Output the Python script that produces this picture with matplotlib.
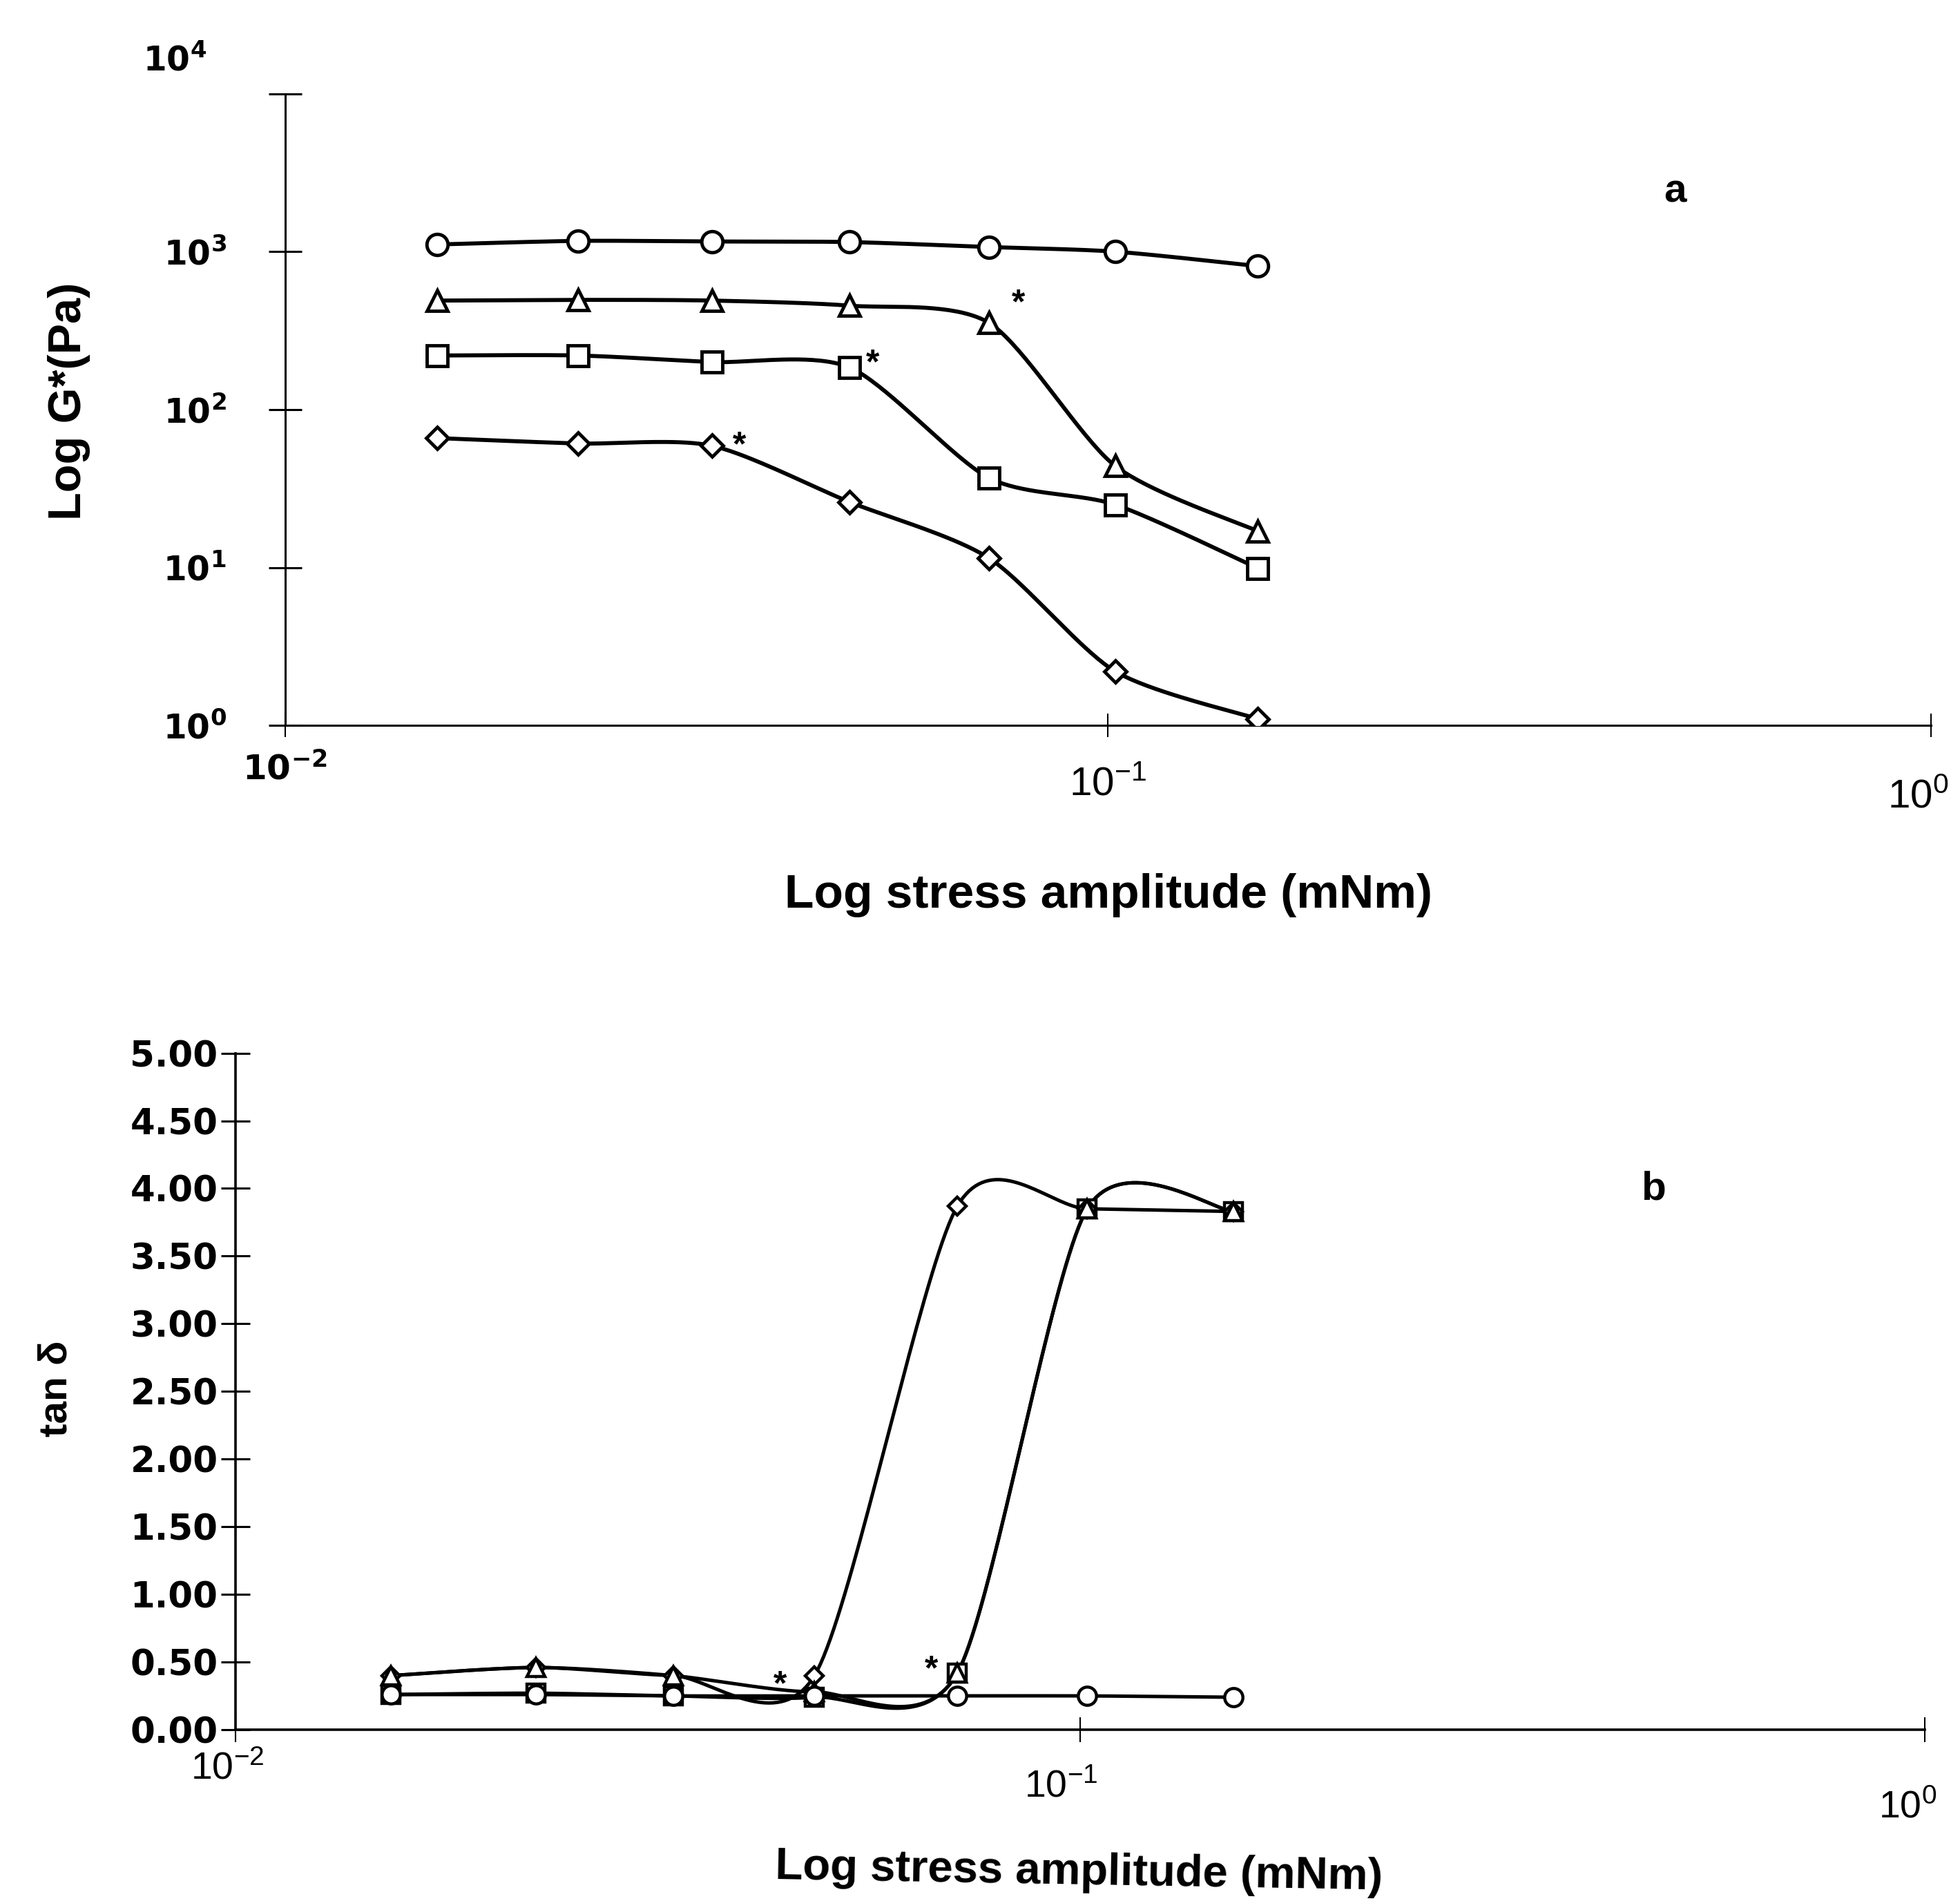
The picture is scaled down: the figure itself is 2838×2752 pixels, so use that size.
import numpy as np
import matplotlib
matplotlib.use("Agg")
import matplotlib.pyplot as plt
from matplotlib import font_manager
from matplotlib.transforms import ScaledTranslation

# Stress amplitudes (mNm), shared by both panels
stress = [0.0153, 0.0227, 0.033, 0.0485, 0.0716, 0.102, 0.152]

# Panel a: complex modulus G* (Pa)
g_circle = [1110, 1170, 1160, 1150, 1070, 1000, 810]
g_triangle = [490, 495, 490, 455, 355, 44, 17]
g_square = [220, 220, 200, 185, 37, 25, 9.9]
g_diamond = [66, 61, 59, 26, 11.5, 2.2, 1.1]

# Panel b: tan delta
tan_circle = [0.26, 0.26, 0.25, 0.25, 0.25, 0.25, 0.24]
tan_triangle = [0.40, 0.46, 0.40, 0.28, 0.42, 3.85, 3.83]
tan_square = [0.26, 0.27, 0.25, 0.24, 0.42, 3.85, 3.83]
tan_diamond = [0.40, 0.46, 0.40, 0.40, 3.87, 3.85, 3.83]

# Tick labels
a_yticks = [1, 10, 100, 1000]
a_yticklabels = [r"$\mathbf{10^{0}}$", r"$\mathbf{10^{1}}$", r"$\mathbf{10^{2}}$", r"$\mathbf{10^{3}}$"]
xticks = [0.01, 0.1, 1]
a_xticklabels = [r"$\mathbf{10^{-2}}$", r"$\mathrm{10^{-1}}$", r"$\mathrm{10^{0}}$"]
b_xticklabels = [r"$\mathrm{10^{-2}}$", r"$\mathrm{10^{-1}}$", r"$\mathrm{10^{0}}$"]
b_yticks = [0.0, 0.5, 1.0, 1.5, 2.0, 2.5, 3.0, 3.5, 4.0, 4.5, 5.0]
b_yticklabels = ["%.2f" % v for v in b_yticks]

# Fonts
names = {f.name for f in font_manager.fontManager.ttflist}
narrow = "Liberation Sans Narrow" if "Liberation Sans Narrow" in names else "Liberation Sans"
plt.rcParams["font.family"] = ["Liberation Sans", "DejaVu Sans"]
plt.rcParams["mathtext.fontset"] = "custom"
plt.rcParams["mathtext.rm"] = narrow
plt.rcParams["mathtext.bf"] = "DejaVu Sans:bold"

ARM = 0.13  # control arm factor of the smoothed lines


def smooth(xs, ys, n=40):
    # Excel style smoothed line: cubic Bezier through the points
    pts = np.column_stack([xs, ys])
    out = [pts[0]]
    t = np.linspace(0, 1, n)[1:, None]
    for i in range(len(pts) - 1):
        p0 = pts[i - 1] if i > 0 else pts[i]
        p1 = pts[i]
        p2 = pts[i + 1]
        p3 = pts[i + 2] if i + 2 < len(pts) else pts[i + 1]
        c1 = p1 + (p2 - p0) * ARM
        c2 = p2 - (p3 - p1) * ARM
        seg = (1 - t) ** 3 * p1 + 3 * (1 - t) ** 2 * t * c1 + 3 * (1 - t) * t ** 2 * c2 + t ** 3 * p2
        out.extend(seg)
    return np.array(out)


def smooth_line(ax, x, y, logy, lw):
    lx = np.log10(x)
    ly = np.log10(y) if logy else np.asarray(y, dtype=float)
    curve = smooth(lx, ly)
    cy = 10 ** curve[:, 1] if logy else curve[:, 1]
    ax.plot(10 ** curve[:, 0], cy, color="black", lw=lw, zorder=2, solid_capstyle="round")


def star(ax, x, y, dx, dy):
    # asterisk marking the yield point, offset in points from the data point
    ax.annotate("*", (x, y), xytext=(dx, dy - 20), textcoords="offset points",
                ha="center", va="baseline", fontsize=36, fontweight="bold", zorder=5)


def shift_labels(ax, shifts):
    # nudge x tick labels (dx, dy in points)
    for lab, (dx, dy) in zip(ax.get_xticklabels(), shifts):
        lab.set_transform(lab.get_transform() + ScaledTranslation(dx / 72, dy / 72, fig.dpi_scale_trans))


fig = plt.figure(figsize=(28.38, 27.52), dpi=100)

# ---------------- Panel a ----------------
ax1 = fig.add_axes([0.1454, 0.6184, 0.8399, 0.3323])
ax1.set_xscale("log")
ax1.set_yscale("log")
ax1.set_xlim(0.01, 1)
ax1.set_ylim(1, 10000)

series_a = [(g_circle, "o"), (g_triangle, "^"), (g_square, "s"), (g_diamond, "D")]
for vals, m in series_a:
    smooth_line(ax1, stress, vals, True, 4.2)
for vals, m in series_a:
    ms = 16 if m == "D" else 22
    ax1.plot(stress, vals, ls="none", marker=m, ms=ms, mfc="white", mec="black", mew=3.5, zorder=3)

star(ax1, stress[4], g_triangle[4], 31, 30)
star(ax1, stress[3], g_square[3], 24, 14)
star(ax1, stress[2], g_diamond[2], 29, 10)

for s in ["top", "right"]:
    ax1.spines[s].set_visible(False)
for s in ["left", "bottom"]:
    ax1.spines[s].set_linewidth(2.2)
ax1.minorticks_off()
ax1.set_yticks(a_yticks + [10000])
ax1.set_yticklabels(a_yticklabels + [""])
ax1.set_xticks(xticks)
ax1.set_xticklabels(a_xticklabels)
ax1.tick_params(axis="y", which="major", direction="inout", length=34, width=2.2, pad=44, labelsize=35)
ax1.tick_params(axis="x", which="major", direction="inout", length=24, width=1.5, pad=16, labelsize=42)
ax1.tick_params(which="minor", length=0)
ax1.get_xticklabels()[0].set_fontsize(36)
shift_labels(ax1, [(0, 0), (0, -14), (-14, -28)])

fig.text(0.0893, 0.968, r"$\mathbf{10^{4}}$", fontsize=35, ha="center", va="center")
fig.text(0.0351, 0.789, "Log G*(Pa)", rotation=90, fontsize=48, fontweight="bold", ha="center", va="center")
fig.text(0.5657, 0.529, "Log stress amplitude (mNm)", fontsize=50, fontweight="bold", ha="center", va="center")
fig.text(0.8546, 0.899, "a", fontsize=42, fontweight="bold", ha="center", va="center")

# ---------------- Panel b ----------------
ax2 = fig.add_axes([0.1200, 0.0901, 0.8620, 0.3559])
ax2.set_xscale("log")
ax2.set_xlim(0.01, 1)
ax2.set_ylim(0, 5)

series_b = [(tan_square, "s"), (tan_diamond, "D"), (tan_triangle, "^"), (tan_circle, "o")]
for vals, m in series_b:
    smooth_line(ax2, stress, vals, False, 3.6)
for vals, m in series_b:
    ms = 13 if m == "D" else 19
    ax2.plot(stress, vals, ls="none", marker=m, ms=ms, mfc="white", mec="black", mew=3.2, zorder=3)

star(ax2, stress[3], tan_diamond[3], -36, 0)
star(ax2, stress[4], tan_square[4], -27, 13)

for s in ["top", "right"]:
    ax2.spines[s].set_visible(False)
for s in ["left", "bottom"]:
    ax2.spines[s].set_linewidth(2.6)
ax2.minorticks_off()
ax2.set_yticks(b_yticks)
ax2.set_yticklabels(b_yticklabels, fontweight="bold", family="DejaVu Sans")
ax2.set_xticks(xticks)
ax2.set_xticklabels(b_xticklabels)
ax2.tick_params(axis="y", which="major", direction="inout", length=30, width=2.2, pad=3, labelsize=37)
ax2.tick_params(axis="x", which="major", direction="inout", length=26, width=1.5, pad=10, labelsize=40)
ax2.tick_params(which="minor", length=0)
shift_labels(ax2, [(-8, 0), (-20, -18), (-18, -40)])

fig.text(0.0287, 0.2697, "tan δ", rotation=90, fontsize=42, fontweight="bold", ha="center", va="center")
fig.text(0.5504, 0.0151, "Log stress amplitude (mNm)", fontsize=47, fontweight="bold",
         ha="center", va="center", rotation=-1)
fig.text(0.8437, 0.3743, "b", fontsize=42, fontweight="bold", ha="center", va="center")

fig.savefig("out.png", dpi=100, facecolor="white")
